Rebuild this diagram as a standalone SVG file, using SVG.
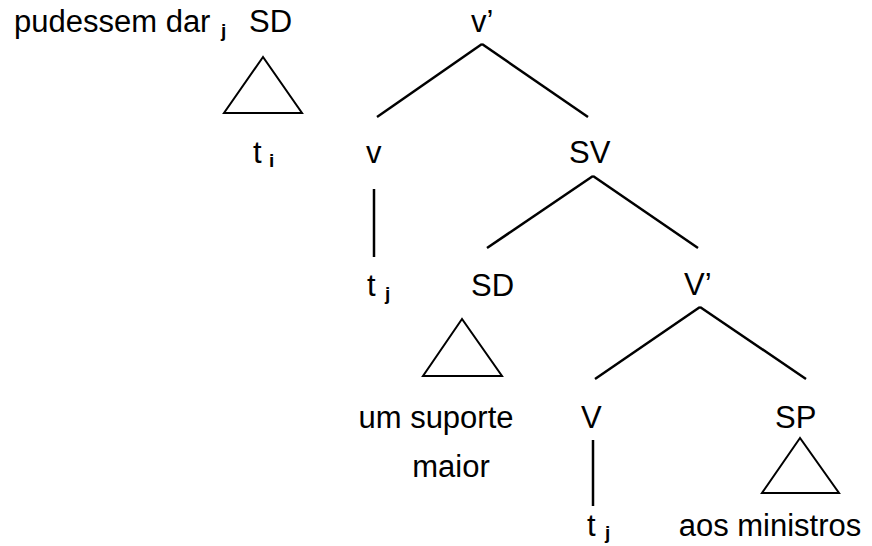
<svg xmlns="http://www.w3.org/2000/svg" width="872" height="546" viewBox="0 0 872 546">
  <style>
    text { font-family: "Liberation Sans", Arial, sans-serif; font-size: 31px; fill: #000; }
    .sub { font-size: 19px; font-weight: bold; }
    .edge { stroke: #000; stroke-width: 2.5; fill: none; stroke-linecap: butt; }
    .tri { stroke: #000; stroke-width: 2; fill: none; stroke-linejoin: miter; }
  </style>

  <!-- tree edges -->
  <g id="connectors">
    <line class="edge" x1="482" y1="44" x2="377" y2="117"/>
    <line class="edge" x1="482" y1="44" x2="588" y2="117"/>
    <line class="edge" x1="374" y1="189" x2="374" y2="257"/>
    <line class="edge" x1="593" y1="176" x2="487" y2="248"/>
    <line class="edge" x1="593" y1="176" x2="698" y2="248"/>
    <line class="edge" x1="700" y1="307" x2="595" y2="379"/>
    <line class="edge" x1="700" y1="307" x2="806" y2="379"/>
    <line class="edge" x1="593" y1="440" x2="593" y2="506"/>
  </g>

  <!-- moved verb -->
  <g id="verb-moved">
    <text x="14" y="32">pudessem dar</text>
    <text class="sub" x="221" y="37">j</text>
  </g>

  <!-- raised subject -->
  <g id="sd-subject">
    <text x="249" y="32">SD</text>
    <polygon class="tri" points="263,57 224,113 302,113"/>
    <text x="253" y="163">t</text>
    <text class="sub" x="269" y="167">i</text>
  </g>

  <g id="v-bar">
    <text x="471" y="32">v’</text>
  </g>

  <g id="v-little">
    <text x="366" y="163">v</text>
  </g>

  <g id="trace-v">
    <text x="367" y="296">t</text>
    <text class="sub" x="385" y="300">j</text>
  </g>

  <g id="sv">
    <text x="569" y="163">SV</text>
  </g>

  <g id="sd-object">
    <text x="471" y="296">SD</text>
    <polygon class="tri" points="462,319 423,376 502,376"/>
    <text x="436" y="428" text-anchor="middle">um suporte</text>
    <text x="451" y="477" text-anchor="middle">maior</text>
  </g>

  <g id="V-bar">
    <text x="684" y="295">V’</text>
  </g>

  <g id="V-head">
    <text x="581" y="428">V</text>
  </g>

  <g id="trace-V">
    <text x="587" y="536">t</text>
    <text class="sub" x="605" y="539">j</text>
  </g>

  <g id="sp">
    <text x="775" y="428">SP</text>
    <polygon class="tri" points="800,438 762,493 839,493"/>
    <text x="770" y="536" text-anchor="middle">aos ministros</text>
  </g>
</svg>
